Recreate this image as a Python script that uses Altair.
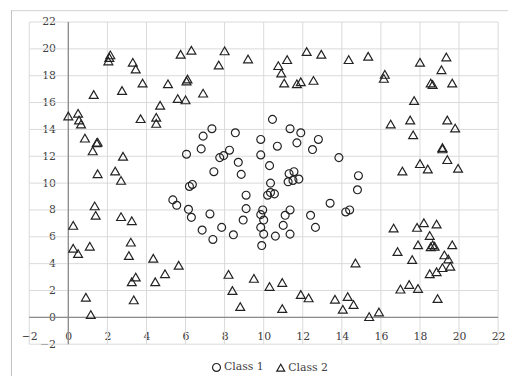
import altair as alt
import pandas as pd

# Class 1 (circles)
class1_x = [10.45, 7.35, 6.9, 8.55, 6.8, 6.05, 8.25, 7.95, 7.75, 8.7, 7.45, 8.85, 9.85, 9.85, 10.3,
            10.7, 11.35, 11.9, 11.7, 12.8, 12.5, 13.85, 11.3, 11.55, 11.25, 11.5, 11.8, 10.35, 10.2,
            10.35, 10.55, 6.2, 6.35, 5.35, 5.55, 9.1, 9.1, 6.15, 6.3, 7.25, 8.95, 9.95, 9.85, 10.0,
            11.35, 11.1, 11.0, 9.85, 6.85, 7.85, 7.4, 8.45, 10.0, 10.6, 11.35, 9.9, 12.4, 12.65, 13.4,
            14.85, 14.8, 14.2, 14.4]
class1_y = [14.75, 14.05, 13.5, 13.75, 12.55, 12.15, 12.45, 12.05, 11.9, 11.55, 10.85, 10.65, 13.25,
            12.1, 11.3, 12.75, 14.05, 13.75, 13.0, 13.25, 12.5, 11.9, 10.7, 10.85, 10.1, 10.2, 10.3,
            10.0, 9.1, 9.3, 9.2, 9.75, 9.9, 8.75, 8.35, 9.1, 8.1, 8.05, 7.45, 7.7, 7.25, 8.0, 7.65,
            7.25, 8.0, 7.6, 6.85, 6.7, 6.5, 6.7, 5.8, 6.15, 6.2, 6.05, 6.2, 5.35, 7.6, 6.7, 8.5,
            10.55, 9.5, 7.85, 8.0]

# Class 2 (triangles)
class2_x = [0.0, 0.5, 0.55, 0.65, 1.3, 2.1, 2.15, 2.05, 3.3, 3.45, 2.75, 3.8, 3.7, 4.5, 4.5, 4.7, 5.1,
            5.75, 6.3, 6.05, 6.1, 5.6, 6.0, 6.9, 7.7, 8.0, 9.2, 10.75, 11.2, 10.9, 11.05, 11.7, 11.9,
            12.55, 12.2, 12.95,
            14.35, 15.35, 16.2, 16.15, 18.0, 19.35, 19.1, 18.55, 18.65, 19.65, 17.7, 16.5, 17.5, 19.4,
            19.8,
            17.65, 19.15, 19.15, 19.4, 18.0, 18.4, 17.1, 19.95,
            16.65, 17.85, 18.2, 18.85, 18.5, 16.85, 17.9, 17.6, 18.55, 18.65, 18.75, 19.65, 19.25,
            19.45, 19.55, 19.15, 18.85, 18.5, 17.0, 17.45, 17.9, 18.9,
            14.3, 14.05, 14.6, 14.7, 15.4, 15.9, 13.65, 12.3, 11.9, 10.95, 10.95, 10.3, 9.5, 8.8, 8.4,
            8.2, 5.65,
            4.95, 4.45, 3.45, 3.25, 3.35, 4.35, 3.1, 3.2, 0.25, 0.5, 1.1, 0.9, 1.15,
            0.85, 1.45, 1.5, 1.25, 2.8, 1.5, 2.4, 2.7, 1.35, 1.4, 0.25, 2.7, 3.25]
class2_y = [15.0, 15.2, 14.7, 14.4, 16.6, 19.35, 19.55, 19.1, 19.0, 18.5, 16.9, 17.45, 14.8, 14.9,
            14.45, 15.8, 17.4,
            19.6, 19.9, 17.6, 17.75, 16.3, 16.2, 16.7, 18.8, 19.85, 19.25, 18.75, 19.2, 18.2, 17.45,
            17.4, 17.55, 17.65, 19.8, 19.6,
            19.2, 19.45, 18.1, 17.8, 19.0, 19.4, 18.45, 17.45, 17.35, 17.45, 16.15, 14.4, 14.7, 14.7,
            14.1,
            13.6, 12.65, 12.55, 11.75, 11.45, 11.05, 10.9, 11.1,
            6.65, 6.7, 7.05, 6.95, 6.1, 4.9, 5.4, 4.3, 5.25, 5.4, 5.3, 5.4, 4.65, 4.35, 3.8, 3.7, 3.4,
            3.25, 2.1, 2.45, 2.15, 1.4,
            1.55, 0.6, 0.95, 4.05, 0.05, 0.4, 1.35, 1.45, 1.7, 0.65, 2.6, 2.3, 2.9, 0.8, 2.0, 3.2, 3.88,
            3.25, 2.65, 3.0, 2.65, 1.3, 4.4, 4.6, 5.6, 5.15, 4.75, 5.3, 1.5, 0.2,
            13.35, 13.0, 13.05, 12.4, 12.0, 10.7, 10.9, 10.2, 8.3, 7.6, 6.85, 7.5, 7.2]

class_names = ["Class 1", "Class 2"]
tick_values = [-2, 0, 2, 4, 6, 8, 10, 12, 14, 16, 18, 20, 22]

points = pd.DataFrame({
    "x": class1_x + class2_x,
    "y": class1_y + class2_y,
    "cls": [class_names[0]] * len(class1_x) + [class_names[1]] * len(class2_x),
})
grid_df = pd.DataFrame({"v": tick_values})
zero_df = pd.DataFrame({"v": [0]})

FONT = "DejaVu Serif"
xscale = alt.Scale(domain=[-2, 22], nice=False, zero=False)
yscale = alt.Scale(domain=[-2, 22], nice=False, zero=False)

W, H = 474.5, 326
x_offset = -(H / 24) * 2
y_offset = -(W / 24) * 2

x_axis = alt.Axis(values=tick_values, offset=x_offset, title=None)
y_axis = alt.Axis(values=tick_values, offset=y_offset, title=None)

vgrid = alt.Chart(grid_df).mark_rule(color="#d9d9d9", strokeWidth=1).encode(
    x=alt.X("v:Q", scale=xscale, axis=x_axis))
hgrid = alt.Chart(grid_df).mark_rule(color="#d9d9d9", strokeWidth=1).encode(
    y=alt.Y("v:Q", scale=yscale, axis=y_axis))
xzero = alt.Chart(zero_df).mark_rule(color="#8c8c8c", strokeWidth=1.3).encode(
    x=alt.X("v:Q", scale=xscale, axis=x_axis))
yzero = alt.Chart(zero_df).mark_rule(color="#8c8c8c", strokeWidth=1.3).encode(
    y=alt.Y("v:Q", scale=yscale, axis=y_axis))

frame_left = alt.Chart(zero_df).mark_rule(color="#bfbfbf", strokeWidth=1).encode(
    x=alt.value(-18), y=alt.value(-12), y2=alt.value(400))
frame_top = alt.Chart(zero_df).mark_rule(color="#d0d0d0", strokeWidth=1).encode(
    y=alt.value(-11.5), x=alt.value(-18), x2=alt.value(600))

pts = alt.Chart(points).mark_point(filled=False, stroke="#222222", strokeWidth=1.2, opacity=1).encode(
    x=alt.X("x:Q", scale=xscale, axis=x_axis),
    y=alt.Y("y:Q", scale=yscale, axis=y_axis),
    shape=alt.Shape("cls:N", scale=alt.Scale(domain=class_names, range=["circle", "triangle-up"]),
                    legend=alt.Legend(orient="none", legendX=184, legendY=344, direction="horizontal",
                                      title=None, labelFont=FONT, labelFontSize=11,
                                      labelColor="#404040", symbolSize=64, symbolStrokeColor="#222222",
                                      symbolStrokeWidth=1.2, symbolFillColor="transparent",
                                      labelOffset=2, columnPadding=10)),
    size=alt.condition(alt.datum.cls == class_names[0], alt.value(64), alt.value(81)),
)

chart = alt.layer(frame_left, frame_top, vgrid, hgrid, xzero, yzero, pts).properties(
    width=W, height=H,
    autosize=alt.AutoSizeParams(type="none"),
    padding={"left": 21.5, "top": 12, "right": 10, "bottom": 30},
).configure_view(stroke="transparent").configure_axis(
    grid=False, domain=False, ticks=False, tickSize=0, labelPadding=13,
    labelFont=FONT, labelFontSize=11, labelColor="#404040",
    labelOverlap=False, labelFlush=False, labelBound=False,
)

chart.save("out.html", embed_options={"renderer": "svg", "actions": False})
